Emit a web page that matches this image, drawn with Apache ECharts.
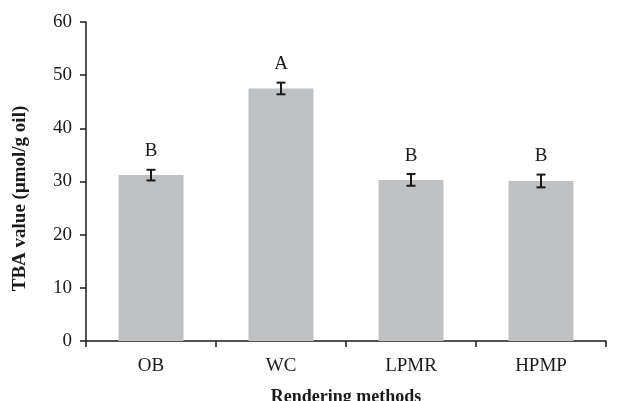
<!DOCTYPE html>
<html>
<head>
<meta charset="utf-8">
<script src="https://cdn.jsdelivr.net/npm/echarts@6/dist/echarts.min.js"></script>
<style>
  html, body { margin: 0; padding: 0; background: #fff; }
  #chart { width: 641px; height: 401px; }
</style>
</head>
<body>
<div id="chart"></div>
<script>
const categories = ['OB', 'WC', 'LPMR', 'HPMP']
const tbaValues = [31.2, 47.5, 30.3, 30.1]
const tbaErrors = [1.0, 1.1, 1.1, 1.2]
const groupLetters = ['B', 'A', 'B', 'B']

const FONT = '"Liberation Serif", "Times New Roman", serif'
const INK = '#1a1a1a'

const chart = echarts.init(document.getElementById('chart'), null, { renderer: 'canvas' })

const errData = categories.map((c, i) => [i, tbaValues[i] - tbaErrors[i], tbaValues[i] + tbaErrors[i]])

chart.setOption({
  animation: false,
  grid: { left: 86, right: 35, top: 22, bottom: 60, outerBoundsMode: 'none', containLabel: false },
  xAxis: {
    type: 'category',
    data: categories,
    name: 'Rendering methods',
    nameLocation: 'middle',
    nameGap: 47,
    nameTextStyle: { fontFamily: FONT, fontSize: 18, fontWeight: 'bold', color: INK },
    axisLine: { lineStyle: { color: INK, width: 1.5 } },
    axisTick: { show: true, length: 6, lineStyle: { color: INK, width: 1.5 } },
    axisLabel: { fontFamily: FONT, fontSize: 19, color: INK, margin: 16 },
  },
  yAxis: {
    type: 'value',
    min: 0,
    max: 60,
    interval: 10,
    name: 'TBA value (μmol/g oil)',
    nameLocation: 'middle',
    nameGap: 56,
    nameTextStyle: { fontFamily: FONT, fontSize: 19, fontWeight: 'bold', color: INK, padding: [0, 34, 0, 0] },
    axisLine: { show: true, lineStyle: { color: INK, width: 1.5 } },
    axisTick: { show: true, length: 6, lineStyle: { color: INK, width: 1.5 } },
    axisLabel: { fontFamily: FONT, fontSize: 19, color: INK, margin: 14 },
    splitLine: { show: false },
  },
  series: [
    {
      type: 'bar',
      data: tbaValues,
      barWidth: '50%',
      itemStyle: { color: '#c0c1c3' },
    },
    {
      type: 'custom',
      data: errData,
      z: 10,
      renderItem: (params, api) => {
        const x = api.value(0)
        const lo = api.coord([x, api.value(1)])
        const hi = api.coord([x, api.value(2)])
        const half = 4.5
        const style = { stroke: INK, lineWidth: 2 }
        return {
          type: 'group',
          children: [
            { type: 'line', shape: { x1: lo[0], y1: lo[1], x2: hi[0], y2: hi[1] }, style },
            { type: 'line', shape: { x1: lo[0] - half, y1: lo[1], x2: lo[0] + half, y2: lo[1] }, style },
            { type: 'line', shape: { x1: hi[0] - half, y1: hi[1], x2: hi[0] + half, y2: hi[1] }, style },
            {
              type: 'text',
              x: hi[0],
              y: hi[1] - 9,
              style: {
                text: groupLetters[params.dataIndex],
                fontFamily: FONT,
                fontSize: 19,
                fill: INK,
                align: 'center',
                verticalAlign: 'bottom',
              },
            },
          ],
        }
      },
    },
  ],
})
</script>
</body>
</html>
